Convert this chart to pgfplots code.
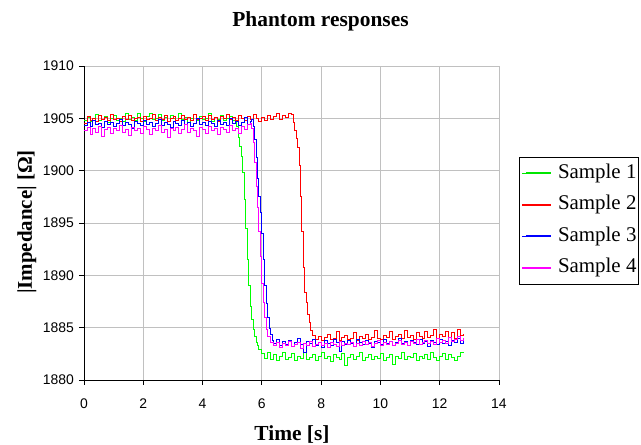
\documentclass[border=0pt]{standalone}
\usepackage{pgfplots}
\pgfplotsset{compat=1.18}
\usepackage{fontspec}
\setmainfont{Liberation Serif}
\setsansfont{Liberation Sans}
\definecolor{sA}{RGB}{0,255,0}
\definecolor{sB}{RGB}{255,0,0}
\definecolor{sC}{RGB}{0,0,255}
\definecolor{sD}{RGB}{255,0,255}
\definecolor{gridc}{RGB}{192,192,192}
\begin{document}
\begin{tikzpicture}
\useasboundingbox (-84bp,-65bp) rectangle (557bp,380bp);
\begin{axis}[
  at={(0bp,0bp)}, anchor=south west,
  scale only axis, width=415bp, height=314bp,
  xmin=0, xmax=14, ymin=1880, ymax=1910,
  xtick={0,2,...,14}, ytick={1880,1885,...,1910},
  grid=major, major grid style={line width=0.8bp, draw=gridc},
  axis x line*=bottom, axis y line*=left,
  axis line style={line width=0.8bp, black, -},
  tick align=outside, major tick length=5bp,
  tick style={line width=0.8bp, black},
  ticklabel style={font=\sffamily\fontsize{14}{14}\selectfont},
  /pgf/number format/assume math mode=true,
  /pgf/number format/1000 sep={},
  yticklabel style={inner sep=0bp, xshift=-5bp},
  xticklabel style={inner sep=0bp, yshift=-13.5bp},
  legend style={at={(axis description cs:1.0482,0.7102)}, anchor=north west,
    draw=black, line width=0.8bp, fill=white,
    font=\fontsize{21}{21}\selectfont,
    inner xsep=2bp, inner ysep=7bp, row sep=13bp, column sep=6bp,
    nodes={inner sep=0bp, text height=14bp, text depth=4.5bp}},
  legend cell align=left,
  legend image code/.code={\path (0bp,0bp) -- (29bp,0bp); \draw[#1] (4bp,0.5bp) -- (29bp,0.5bp);},
  every axis plot/.append style={const plot, line width=0.8bp},
]
\addlegendimage{draw={rgb,255:red,0;green,230;blue,0}, line width=1.6bp}
\addlegendentry{Sample 1}
\addlegendimage{draw={rgb,255:red,255;green,0;blue,0}, line width=1.4bp}
\addlegendentry{Sample 2}
\addlegendimage{draw={rgb,255:red,0;green,0;blue,255}, line width=1.4bp}
\addlegendentry{Sample 3}
\addlegendimage{draw={rgb,255:red,255;green,0;blue,255}, line width=1.4bp}
\addlegendentry{Sample 4}
\addplot[sA, forget plot] coordinates {
(0.0,1904.8)(0.1,1905.1)(0.2,1904.7)(0.3,1905.0)(0.4,1905.4)(0.5,1904.8)(0.6,1904.9)(0.7,1905.2)(0.8,1904.6)(0.9,1905.0)
(1.0,1905.3)(1.1,1904.8)(1.2,1905.0)(1.3,1904.7)(1.4,1905.5)(1.5,1904.9)(1.6,1905.1)(1.7,1904.8)(1.8,1905.5)(1.9,1905.0)
(2.0,1904.7)(2.1,1905.2)(2.2,1905.5)(2.3,1904.9)(2.4,1905.0)(2.5,1905.4)(2.6,1904.8)(2.7,1905.1)(2.8,1904.7)(2.9,1905.3)
(3.0,1905.0)(3.1,1904.8)(3.2,1905.5)(3.3,1904.9)(3.4,1905.1)(3.5,1904.6)(3.6,1905.0)(3.7,1905.4)(3.8,1904.8)(3.9,1905.2)
(4.0,1904.9)(4.1,1905.0)(4.2,1905.5)(4.3,1904.7)(4.4,1905.1)(4.5,1904.9)(4.6,1905.3)(4.7,1904.8)(4.8,1905.0)(4.9,1905.2)
(5.0,1904.8)(5.1,1904.6)(5.15,1904.2)(5.2,1903.2)(5.25,1902.3)(5.3,1901.4)(5.35,1899.8)(5.4,1897.3)(5.45,1894.5)(5.5,1891.5)
(5.55,1889.0)(5.6,1887.0)(5.65,1885.8)(5.7,1884.8)(5.75,1884.2)(5.8,1883.6)(5.85,1883.3)(5.9,1882.9)(6.0,1882.5)
(6.1,1882.1)(6.2,1882.6)(6.3,1882.0)(6.4,1882.4)(6.5,1881.9)(6.6,1882.3)(6.7,1882.6)(6.8,1882.0)(6.9,1882.2)
(7.0,1882.5)(7.1,1881.9)(7.2,1882.3)(7.3,1882.1)(7.4,1882.6)(7.5,1882.0)(7.6,1882.2)(7.7,1882.4)(7.8,1881.9)(7.9,1882.3)
(8.0,1882.6)(8.1,1882.1)(8.2,1882.3)(8.3,1881.8)(8.4,1882.4)(8.5,1882.2)(8.6,1882.0)(8.7,1882.5)(8.8,1881.4)(8.9,1882.2)
(9.0,1882.4)(9.1,1882.0)(9.2,1882.3)(9.3,1882.6)(9.4,1881.9)(9.5,1882.2)(9.6,1882.4)(9.7,1882.0)(9.8,1882.3)(9.9,1882.1)
(10.0,1882.5)(10.1,1881.9)(10.2,1882.2)(10.3,1882.4)(10.4,1881.5)(10.5,1882.3)(10.6,1882.1)(10.7,1882.6)(10.8,1882.0)(10.9,1882.3)
(11.0,1882.2)(11.1,1882.5)(11.2,1881.9)(11.3,1882.3)(11.4,1882.1)(11.5,1882.4)(11.6,1882.0)(11.7,1882.6)(11.8,1882.2)(11.9,1881.9)
(12.0,1882.3)(12.1,1882.5)(12.2,1882.0)(12.3,1882.4)(12.4,1882.2)(12.5,1881.9)(12.6,1882.3)(12.7,1882.6)(12.8,1882.7)
};
\addplot[sB, forget plot] coordinates {
(0.0,1904.5)(0.1,1905.2)(0.2,1904.8)(0.3,1905.0)(0.4,1904.7)(0.5,1905.3)(0.6,1904.9)(0.7,1905.1)(0.8,1904.8)(0.9,1905.4)
(1.0,1904.9)(1.1,1905.0)(1.2,1904.7)(1.3,1905.2)(1.4,1904.9)(1.5,1905.3)(1.6,1904.8)(1.7,1905.0)(1.8,1905.1)(1.9,1904.7)
(2.0,1905.2)(2.1,1904.9)(2.2,1905.0)(2.3,1905.4)(2.4,1904.8)(2.5,1905.1)(2.6,1904.9)(2.7,1905.3)(2.8,1904.7)(2.9,1905.0)
(3.0,1905.2)(3.1,1904.8)(3.2,1905.0)(3.3,1905.3)(3.4,1904.9)(3.5,1905.1)(3.6,1904.8)(3.7,1905.4)(3.8,1904.9)(3.9,1905.0)
(4.0,1905.2)(4.1,1904.8)(4.2,1905.3)(4.3,1904.9)(4.4,1905.1)(4.5,1904.7)(4.6,1905.2)(4.7,1905.0)(4.8,1905.4)(4.9,1904.9)
(5.0,1905.1)(5.1,1904.8)(5.2,1905.3)(5.3,1905.0)(5.4,1904.8)(5.5,1905.2)(5.6,1904.9)(5.7,1905.4)(5.8,1905.0)(5.9,1904.7)
(6.0,1905.1)(6.1,1904.8)(6.2,1905.3)(6.3,1904.9)(6.4,1905.2)(6.5,1905.5)(6.6,1904.9)(6.7,1905.3)(6.8,1905.1)(6.9,1905.5)
(7.0,1905.4)(7.05,1904.6)(7.1,1903.8)(7.15,1903.1)(7.2,1902.2)(7.25,1900.5)(7.3,1897.5)(7.35,1894.2)(7.4,1890.8)(7.45,1888.4)
(7.5,1887.4)(7.55,1886.3)(7.6,1885.5)(7.65,1884.7)(7.7,1884.3)(7.8,1883.9)(7.9,1884.2)
(8.0,1883.8)(8.1,1884.1)(8.2,1884.4)(8.3,1883.9)(8.4,1884.0)(8.5,1884.6)(8.6,1883.8)(8.7,1884.1)(8.8,1884.3)(8.9,1883.9)
(9.0,1884.0)(9.1,1884.5)(9.2,1883.8)(9.3,1884.2)(9.4,1884.0)(9.5,1884.4)(9.6,1883.9)(9.7,1884.1)(9.8,1884.7)(9.9,1884.0)
(10.0,1883.9)(10.1,1884.3)(10.2,1884.1)(10.3,1884.6)(10.4,1883.9)(10.5,1884.2)(10.6,1884.4)(10.7,1884.0)(10.8,1884.7)(10.9,1884.1)
(11.0,1884.3)(11.1,1883.9)(11.2,1884.5)(11.3,1884.2)(11.4,1884.0)(11.5,1884.6)(11.6,1884.1)(11.7,1884.3)(11.8,1884.8)(11.9,1884.0)
(12.0,1884.4)(12.1,1884.2)(12.2,1884.6)(12.3,1884.1)(12.4,1884.5)(12.5,1884.0)(12.6,1884.8)(12.7,1884.3)(12.8,1884.4)
};
\addplot[sC, forget plot] coordinates {
(0.0,1904.3)(0.1,1904.6)(0.2,1904.2)(0.3,1904.8)(0.4,1904.4)(0.5,1904.5)(0.6,1904.1)(0.7,1904.7)(0.8,1904.4)(0.9,1904.6)
(1.0,1904.2)(1.1,1904.5)(1.2,1904.9)(1.3,1904.3)(1.4,1904.6)(1.5,1904.4)(1.6,1904.0)(1.7,1904.7)(1.8,1904.5)(1.9,1904.3)
(2.0,1904.8)(2.1,1904.4)(2.2,1904.6)(2.3,1904.2)(2.4,1904.5)(2.5,1904.9)(2.6,1904.3)(2.7,1904.6)(2.8,1904.4)(2.9,1904.1)
(3.0,1904.7)(3.1,1904.5)(3.2,1904.3)(3.3,1904.8)(3.4,1904.4)(3.5,1904.6)(3.6,1904.2)(3.7,1904.5)(3.8,1905.0)(3.9,1904.4)
(4.0,1904.6)(4.1,1904.3)(4.2,1904.7)(4.3,1904.5)(4.4,1904.2)(4.5,1904.8)(4.6,1904.4)(4.7,1904.6)(4.8,1904.3)(4.9,1905.0)
(5.0,1904.5)(5.1,1904.7)(5.2,1904.3)(5.3,1904.6)(5.4,1905.1)(5.5,1904.4)(5.6,1904.7)(5.65,1904.9)(5.7,1904.2)(5.75,1903.0)
(5.8,1901.3)(5.85,1899.3)(5.9,1897.5)(5.95,1896.0)(6.0,1894.0)(6.05,1891.5)(6.1,1889.0)(6.15,1887.3)(6.2,1886.0)(6.25,1884.9)
(6.3,1884.4)(6.35,1883.8)(6.4,1883.5)(6.5,1883.9)(6.6,1883.3)(6.7,1883.7)(6.8,1883.4)(6.9,1883.8)
(7.0,1883.2)(7.1,1883.6)(7.2,1884.0)(7.3,1883.4)(7.4,1882.6)(7.5,1883.7)(7.6,1883.5)(7.7,1883.9)(7.8,1883.3)(7.9,1883.6)
(8.0,1883.1)(8.1,1883.8)(8.2,1883.5)(8.3,1883.3)(8.4,1883.9)(8.5,1883.6)(8.6,1882.7)(8.7,1883.7)(8.8,1883.4)(8.9,1883.8)
(9.0,1883.5)(9.1,1883.2)(9.2,1883.9)(9.3,1883.6)(9.4,1883.4)(9.5,1883.8)(9.6,1883.5)(9.7,1883.1)(9.8,1883.7)(9.9,1883.6)
(10.0,1883.4)(10.1,1883.9)(10.2,1883.5)(10.3,1883.7)(10.4,1883.3)(10.5,1883.6)(10.6,1884.0)(10.7,1883.5)(10.8,1883.7)(10.9,1883.3)
(11.0,1883.8)(11.1,1883.6)(11.2,1883.4)(11.3,1883.9)(11.4,1883.5)(11.5,1883.7)(11.6,1883.2)(11.7,1883.8)(11.8,1883.6)(11.9,1883.4)
(12.0,1883.9)(12.1,1883.5)(12.2,1883.7)(12.3,1883.3)(12.4,1883.8)(12.5,1883.6)(12.6,1884.0)(12.7,1883.5)(12.8,1883.7)
};
\addplot[sD, forget plot] coordinates {
(0.0,1903.8)(0.1,1904.1)(0.2,1903.5)(0.3,1904.0)(0.4,1903.7)(0.5,1904.2)(0.6,1903.3)(0.7,1903.9)(0.8,1904.1)(0.9,1903.6)
(1.0,1904.0)(1.1,1903.8)(1.2,1904.3)(1.3,1903.7)(1.4,1903.9)(1.5,1903.4)(1.6,1904.1)(1.7,1903.8)(1.8,1904.0)(1.9,1903.6)
(2.0,1904.2)(2.1,1903.9)(2.2,1903.5)(2.3,1904.0)(2.4,1903.8)(2.5,1904.3)(2.6,1903.7)(2.7,1903.9)(2.8,1903.2)(2.9,1904.0)
(3.0,1903.8)(3.1,1904.1)(3.2,1903.6)(3.3,1903.9)(3.4,1904.4)(3.5,1903.7)(3.6,1904.0)(3.7,1903.8)(3.8,1903.3)(3.9,1904.1)
(4.0,1903.9)(4.1,1903.6)(4.2,1904.2)(4.3,1903.8)(4.4,1904.0)(4.5,1903.5)(4.6,1904.1)(4.7,1903.9)(4.8,1903.7)(4.9,1904.3)
(5.0,1903.8)(5.1,1904.0)(5.2,1903.6)(5.3,1904.2)(5.4,1903.9)(5.5,1904.4)(5.6,1904.5)(5.65,1904.0)(5.7,1902.7)(5.75,1900.8)
(5.8,1898.5)(5.85,1896.5)(5.9,1894.2)(5.95,1891.8)(6.0,1889.2)(6.05,1887.4)(6.1,1886.0)(6.15,1884.8)(6.2,1884.2)(6.3,1883.6)
(6.4,1883.3)(6.5,1883.6)(6.6,1883.1)(6.7,1883.5)(6.8,1883.3)(6.9,1883.7)
(7.0,1883.2)(7.1,1883.4)(7.2,1883.6)(7.3,1883.0)(7.4,1883.5)(7.5,1883.3)(7.6,1883.7)(7.7,1883.2)(7.8,1883.4)(7.9,1883.6)
(8.0,1883.3)(8.1,1883.5)(8.2,1883.1)(8.3,1883.6)(8.4,1883.4)(8.5,1883.2)(8.6,1883.7)(8.7,1883.3)(8.8,1883.5)(8.9,1883.4)
(9.0,1883.6)(9.1,1883.2)(9.2,1883.5)(9.3,1883.3)(9.4,1883.7)(9.5,1883.4)(9.6,1883.6)(9.7,1883.2)(9.8,1883.5)(9.9,1883.8)
(10.0,1883.3)(10.1,1883.6)(10.2,1883.4)(10.3,1883.7)(10.4,1883.3)(10.5,1883.5)(10.6,1883.8)(10.7,1883.4)(10.8,1883.6)(10.9,1883.3)
(11.0,1883.7)(11.1,1883.5)(11.2,1883.9)(11.3,1883.4)(11.4,1883.6)(11.5,1883.8)(11.6,1883.5)(11.7,1883.7)(11.8,1883.4)(11.9,1884.0)
(12.0,1883.6)(12.1,1883.8)(12.2,1883.5)(12.3,1884.1)(12.4,1883.7)(12.5,1883.9)(12.6,1884.2)(12.7,1883.8)(12.8,1884.0)
};
\end{axis}
\node[anchor=base, font=\bfseries\fontsize{21.5}{21.5}\selectfont] at (236.5bp,353.3bp) {Phantom responses};
\node[anchor=base, font=\bfseries\fontsize{21.5}{21.5}\selectfont] at (208bp,-60bp) {Time [s]};
\node[anchor=base, rotate=90, font=\bfseries\fontsize{21}{21}\selectfont] at (-52bp,158bp) {|Impedance| [Ω]};
\end{tikzpicture}
\end{document}
